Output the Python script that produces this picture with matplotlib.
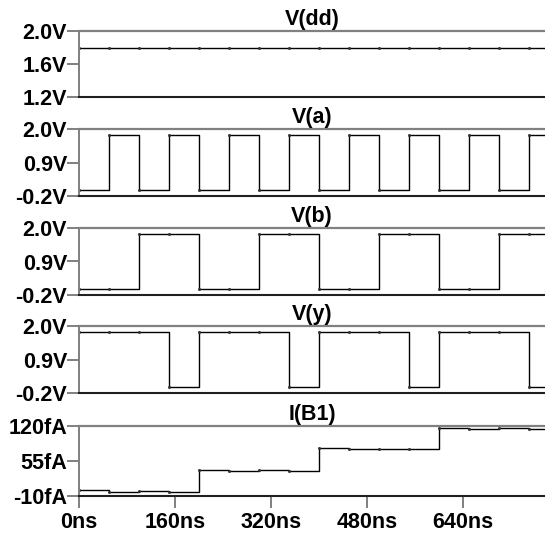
import matplotlib.pyplot as plt
import numpy as np

plt.rcParams['font.family'] = ['Liberation Sans', 'DejaVu Sans']
plt.rcParams['font.weight'] = 'bold'

# time points (ns), value held from each point until the next one
t_ns = [0, 50, 100, 150, 200, 250, 300, 350, 400, 450, 500, 550, 600, 650, 700, 750, 800]
vdd = [1.8, 1.8, 1.8, 1.8, 1.8, 1.8, 1.8, 1.8, 1.8, 1.8, 1.8, 1.8, 1.8, 1.8, 1.8, 1.8, 1.8]
va = [0, 1.8, 0, 1.8, 0, 1.8, 0, 1.8, 0, 1.8, 0, 1.8, 0, 1.8, 0, 1.8, 1.8]
vb = [0, 0, 1.8, 1.8, 0, 0, 1.8, 1.8, 0, 0, 1.8, 1.8, 0, 0, 1.8, 1.8, 1.8]
vy = [1.8, 1.8, 1.8, 0, 1.8, 1.8, 1.8, 0, 1.8, 1.8, 1.8, 0, 1.8, 1.8, 1.8, 0, 0]
ib1 = [0, -3.8, -2.5, -3.8, 37.5, 35.6, 37.5, 36, 78, 76.3, 77.5, 76.3, 116.8, 115, 116, 115, 115]

titles = ["V(dd)", "V(a)", "V(b)", "V(y)", "I(B1)"]
series = [vdd, va, vb, vy, ib1]
ylims = [(1.2, 2.0), (-0.2, 2.0), (-0.2, 2.0), (-0.2, 2.0), (-10, 120)]
yticks = [[1.2, 1.6, 2.0], [-0.2, 0.9, 2.0], [-0.2, 0.9, 2.0], [-0.2, 0.9, 2.0], [-10, 55, 120]]
ylabels = [["1.2V", "1.6V", "2.0V"],
           ["-0.2V", "0.9V", "2.0V"],
           ["-0.2V", "0.9V", "2.0V"],
           ["-0.2V", "0.9V", "2.0V"],
           ["-10fA", "55fA", "120fA"]]
xticks = [0, 160, 320, 480, 640]
xlabels = ["0ns", "160ns", "320ns", "480ns", "640ns"]

W, H = 545, 539
fig = plt.figure(figsize=(W / 100, H / 100), dpi=100)

# panel top / bottom in pixels
rows = [(31, 97), (129, 196), (228, 295), (326, 393), (426, 495.5)]
left = 79
fs = 15.5

for i in range(5):
    top, bot = rows[i]
    ax = fig.add_axes([left / W, 1 - bot / H, 1 - left / W, (bot - top) / H])
    ax.step(t_ns, series[i], where='post', color='black', lw=1.0)
    ax.plot(t_ns, series[i], ls='none', marker='s', ms=1.0, color='#303030')
    ax.set_xlim(0, (W - left) / 96 * 160)
    ax.set_ylim(ylims[i])
    ax.set_yticks(yticks[i])
    ax.set_yticklabels(ylabels[i], fontsize=fs, fontweight='bold')
    ax.spines['right'].set_visible(False)
    ax.spines['top'].set_color('#808080')
    ax.spines['top'].set_linewidth(1.6)
    ax.spines['left'].set_color('#808080')
    ax.spines['left'].set_linewidth(1.4)
    ax.spines['bottom'].set_color('#202020')
    ax.spines['bottom'].set_linewidth(1.5)
    ax.tick_params(axis='y', direction='out', length=8.6, width=1.4, color='#808080', pad=0)
    if i == 4:
        ax.set_xticks(xticks)
        ax.set_xticklabels(xlabels, fontsize=fs, fontweight='bold')
        ax.tick_params(axis='x', direction='out', length=8.6, width=1.4, color='#808080', pad=3)
    else:
        ax.set_xticks([])
    ax.set_title(titles[i], fontsize=fs, fontweight='bold', pad=4)

plt.savefig("out.png", dpi=100)
